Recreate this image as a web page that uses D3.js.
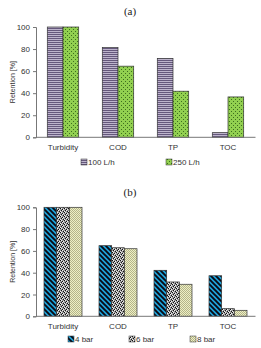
<!DOCTYPE html>
<html><head><meta charset="utf-8">
<script src="https://cdn.jsdelivr.net/npm/d3@7"></script>
<style>body{margin:0;background:#fff}svg{display:block}</style>
</head><body>
<script>
const categories = ["Turbidity","COD","TP","TOC"];
const yTicks = [0,20,40,60,80,100];
// Chart (a)
const seriesA = ["100 L/h","250 L/h"];
const flow100 = [100, 81.5, 71.5, 4.2];
const flow250 = [100, 64.5, 41.8, 36.6];
// Chart (b)
const seriesB = ["4 bar","6 bar","8 bar"];
const bar4 = [100, 64.8, 42.2, 37.2];
const bar6 = [100, 62.9, 31.5, 7];
const bar8 = [100, 62, 29.4, 5.5];

const W = 261, H = 348;
const svg = d3.select("body").append("svg").attr("width", W).attr("height", H);
const defs = svg.append("defs");

function pat(id, w, h, bg, draw){
  const p = defs.append("pattern").attr("id", id).attr("patternUnits","userSpaceOnUse")
    .attr("width", w).attr("height", h);
  p.append("rect").attr("width", w).attr("height", h).attr("fill", bg);
  draw(p);
}
pat("pA1", 4, 2, "#65587c", p => {
  p.append("rect").attr("x",0).attr("y",1).attr("width",4).attr("height",1).attr("fill","#bdb4cc");
});
pat("pA2", 4, 4, "#92d050", p => {
  p.append("rect").attr("x",1).attr("y",1).attr("width",1).attr("height",1).attr("fill","#3d6e1e");
  p.append("rect").attr("x",3).attr("y",3).attr("width",1).attr("height",1).attr("fill","#3d6e1e");
});
pat("pB1", 5, 5, "#1ea3da", p => {
  p.append("path").attr("d","M0,0L5,5M-1,4L1,6M4,-1L6,1").attr("stroke","#0a0a14").attr("stroke-width",1.9);
});
pat("pB2", 4, 4, "#9a9a9a", p => {
  [[0,0],[2,1],[1,2],[3,3]].forEach(([x,y]) => p.append("rect").attr("x",x).attr("y",y).attr("width",1).attr("height",1).attr("fill","#111"));
  [[1,0],[3,1],[0,3],[2,2]].forEach(([x,y]) => p.append("rect").attr("x",x).attr("y",y).attr("width",1).attr("height",1).attr("fill","#f2f2f2"));
});
pat("pB3", 2, 2, "#eef0c4", p => {
  p.append("rect").attr("x",0).attr("y",0).attr("width",1).attr("height",1).attr("fill","#b4b48a");
  p.append("rect").attr("x",1).attr("y",1).attr("width",1).attr("height",1).attr("fill","#b4b48a");
});

function drawChart(cfg){
  const g = svg.append("g");
  const y = d3.scaleLinear().domain([0,100]).range([cfg.y0, cfg.y1]);
  const x0 = d3.scaleBand().domain(categories).range([35.5, 255.5]);
  const x1 = d3.scaleBand().domain(cfg.series).range([0, cfg.groupW]);
  g.append("text").attr("x",130).attr("y",cfg.titleY).attr("text-anchor","middle")
    .attr("font-family","Liberation Serif, serif").attr("font-weight","normal")
    .attr("font-size",11).attr("fill","#222").text(cfg.title);
  cfg.series.forEach((s,i) => {
    g.append("g").selectAll("rect").data(cfg.values[i]).join("rect")
      .attr("x",(d,j) => x0(categories[j]) + x0.bandwidth()/2 - cfg.groupW/2 + x1(s))
      .attr("y", d => y(d))
      .attr("width", x1.bandwidth())
      .attr("height", d => y(0) - y(d))
      .attr("fill", `url(#${cfg.pats[i]})`)
      .attr("stroke","#333").attr("stroke-width",0.7);
  });
  const ya = g.append("g").attr("transform","translate(36,0)")
    .call(d3.axisLeft(y).tickValues(yTicks).tickSize(3).tickPadding(3));
  ya.selectAll("text").attr("font-family","Liberation Sans, Arial, sans-serif").attr("font-size",8).attr("fill","#333");
  ya.selectAll("line,path").attr("stroke","#777");
  const xa = g.append("g").attr("transform",`translate(0,${cfg.y0})`)
    .call(d3.axisBottom(x0).tickSize(0).tickPadding(7));
  xa.selectAll("text").attr("font-family","Liberation Sans, Arial, sans-serif").attr("font-size",8).attr("fill","#333");
  xa.select("path").attr("stroke","#777").attr("d",`M36,0H255.5`);
  g.append("text").attr("transform",`translate(15,${(cfg.y0+cfg.y1)/2}) rotate(-90)`)
    .attr("text-anchor","middle").attr("font-family","Liberation Sans, Arial, sans-serif")
    .attr("font-size",7).attr("fill","#333").text("Retention [%]");
  cfg.series.forEach((s,i) => {
    const lx = cfg.legX[i];
    g.append("rect").attr("x",lx).attr("y",cfg.legY-3).attr("width",6).attr("height",6)
      .attr("fill",`url(#${cfg.pats[i]})`).attr("stroke","#333").attr("stroke-width",0.5);
    g.append("text").attr("x",lx+7).attr("y",cfg.legY+3).attr("font-family","Liberation Sans, Arial, sans-serif")
      .attr("font-size",8).attr("fill","#333").text(s);
  });
}

drawChart({title:"(a)", titleY:15, y0:137.3, y1:27, series:seriesA, values:[flow100, flow250],
  groupW:31.4, pats:["pA1","pA2"], legX:[81,166], legY:162});
drawChart({title:"(b)", titleY:196, y0:316.3, y1:207.3, series:seriesB, values:[bar4, bar6, bar8],
  groupW:38, pats:["pB1","pB2","pB3"], legX:[68,129,190], legY:339});
</script>
</body></html>
